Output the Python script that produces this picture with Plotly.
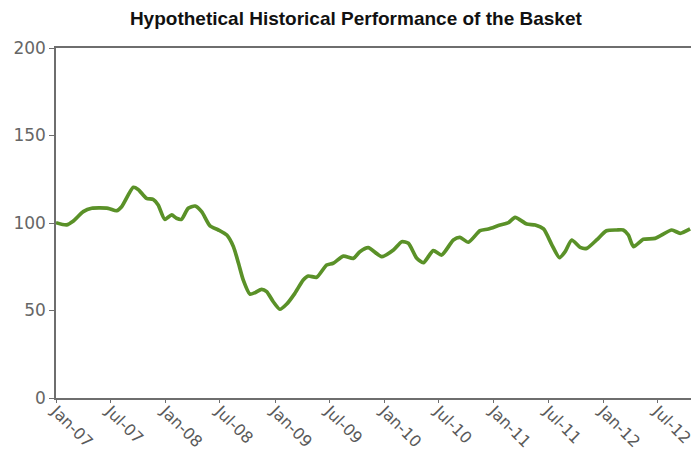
import plotly.graph_objects as go

dates = [
    "2007-01-01", "2007-02-05", "2007-02-27", "2007-04-02", "2007-04-30", "2007-06-24",
    "2007-07-22", "2007-08-08", "2007-09-16", "2007-10-02", "2007-10-30", "2007-11-21",
    "2007-12-08", "2007-12-30", "2008-01-22", "2008-02-07", "2008-02-24", "2008-03-17",
    "2008-04-09", "2008-05-01", "2008-05-29", "2008-06-26", "2008-07-24", "2008-08-15",
    "2008-09-01", "2008-09-17", "2008-10-09", "2008-10-26", "2008-11-17", "2008-12-04",
    "2008-12-26", "2009-01-17", "2009-02-09", "2009-03-08", "2009-04-05", "2009-04-22",
    "2009-05-20", "2009-06-22", "2009-07-14", "2009-08-17", "2009-09-19", "2009-10-11",
    "2009-11-08", "2009-12-23", "2010-01-31", "2010-02-28", "2010-03-22", "2010-04-19",
    "2010-05-11", "2010-06-13", "2010-07-11", "2010-08-19", "2010-09-10", "2010-10-08",
    "2010-11-16", "2010-12-14", "2011-01-22", "2011-02-19", "2011-03-13", "2011-04-21",
    "2011-05-19", "2011-06-16", "2011-07-14", "2011-08-08", "2011-08-27", "2011-09-18",
    "2011-10-16", "2011-11-07", "2011-12-10", "2012-01-12", "2012-02-15", "2012-03-08",
    "2012-03-25", "2012-04-11", "2012-05-14", "2012-06-22", "2012-08-17", "2012-09-14",
    "2012-10-17",
]
values = [
    100.2, 98.9, 101.0, 106.5, 108.4, 108.4,
    107.0, 109.3, 120.4, 119.2, 114.1, 113.5,
    110.3, 102.1, 104.6, 102.7, 102.1, 108.4,
    109.7, 106.5, 98.3, 96.0, 93.1, 86.5,
    77.0, 67.4, 59.4, 60.2, 62.1, 60.8,
    55.0, 50.7, 53.7, 59.8, 67.4, 69.7,
    69.0, 76.0, 77.0, 81.1, 79.8, 83.6,
    85.9, 80.8, 84.6, 89.3, 88.4, 79.8,
    77.3, 84.2, 81.7, 90.3, 91.8, 89.0,
    95.6, 96.6, 98.9, 100.2, 103.2, 99.4,
    98.9, 96.6, 87.4, 80.2, 83.6, 90.3,
    86.1, 85.5, 90.3, 95.6, 96.0, 96.0,
    93.1, 86.5, 90.7, 91.2, 96.0, 94.1,
    96.6,
]
tick_dates = [
    "2007-01-01", "2007-07-01", "2008-01-01", "2008-07-01", "2009-01-01", "2009-07-01",
    "2010-01-01", "2010-07-01", "2011-01-01", "2011-07-01", "2012-01-01", "2012-07-01",
]
tick_labels = ["Jan-07", "Jul-07", "Jan-08", "Jul-08", "Jan-09", "Jul-09",
               "Jan-10", "Jul-10", "Jan-11", "Jul-11", "Jan-12", "Jul-12"]
y_ticks = [0, 50, 100, 150, 200]

fig = go.Figure()
fig.add_trace(go.Scatter(
    x=dates, y=values, mode="lines",
    line=dict(color="#5a9128", width=3.7, shape="spline", smoothing=0.6),
    showlegend=False, hoverinfo="skip",
))

fig.update_layout(
    width=691, height=450,
    margin=dict(l=56, r=0, t=48, b=52, autoexpand=False),
    paper_bgcolor="white", plot_bgcolor="white",
    title=dict(
        text="<b>Hypothetical Historical Performance of the Basket</b>",
        x=0.515, xanchor="center", y=0.96, yanchor="middle",
        font=dict(family="Liberation Sans Narrow, Arial Narrow, Liberation Sans, Arial", size=19, color="#111111"),
    ),
    xaxis=dict(
        type="date", range=["2007-01-01", "2012-10-20"],
        tickvals=tick_dates, ticktext=tick_labels, tickangle=45,
        ticklabeloverflow="allow", ticklabelstandoff=-7,
        showgrid=False, zeroline=False, automargin=False,
        showline=True, linecolor="#6e6e6e", linewidth=1.5, mirror=True,
        ticks="outside", ticklen=3, tickcolor="#6e6e6e",
        tickfont=dict(family="DejaVu Sans", size=16, color="#5a5a5a"),
    ),
    yaxis=dict(
        range=[0, 200], tickvals=y_ticks, automargin=False,
        showgrid=False, zeroline=False,
        showline=True, linecolor="#6e6e6e", linewidth=1.5,
        ticks="outside", ticklen=5, tickcolor="#6e6e6e",
        tickfont=dict(family="DejaVu Sans", size=17, color="#666666"),
    ),
)

fig.write_html(
    "out.html",
    config={"displayModeBar": False},
    post_script="document.body.style.margin='0';document.body.style.overflow='hidden';",
)
